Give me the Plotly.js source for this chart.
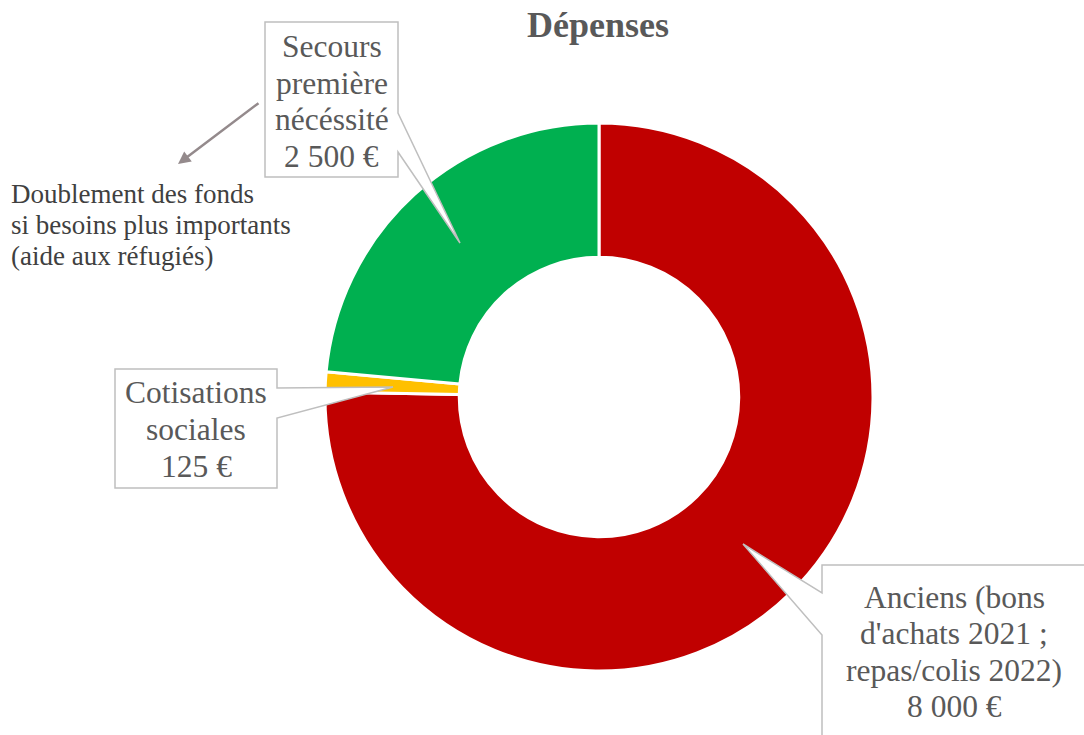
<!DOCTYPE html>
<html>
<head>
<meta charset="utf-8">
<script src="https://cdn.plot.ly/plotly-3.0.1.min.js"></script>
<style>html,body{margin:0;padding:0;background:#fff;}#chart{width:1084px;height:735px;}</style>
</head>
<body>
<div id="chart"></div>
<script>
// Data
const categories = ["Anciens (bons|d'achats 2021 ;|repas/colis 2022)", "Cotisations|sociales", "Secours|première|nécéssité"];
const values = [8000, 125, 2500];
const valueLabels = ["8 000 €", "125 €", "2 500 €"];
const colors = ["#C00000", "#FFC000", "#00B050"];
const chartTitle = "Dépenses";
const noteLines = ["Doublement des fonds", "si besoins plus importants", "(aide aux réfugiés)"];

const W = 1084, H = 735;
const px = x => x / W;
const py = y => 1 - y / H;

const font = "Liberation Serif, Times New Roman, serif";
const LBL = 31.5, NOTE = 27, TTL = 36;

// callout boxes (pixel layout): box rect, wedge base points on one edge, tip
const boxes = [
  {l: 822, t: 565, r: 1092, b: 745, side: 'left', b1: 593, b2: 635, tip: [743, 544], cx: 954, base0: 608, gap: 36.5},
  {l: 115, t: 369, r: 277, b: 488, side: 'right', b1: 388, b2: 418, tip: [393, 387], cx: 196, base0: 403, gap: 37},
  {l: 265, t: 22, r: 398, b: 177, side: 'right', b1: 113, b2: 152, tip: [460, 243], cx: 331.5, base0: 57, gap: 36.7}
];

function calloutPath(b) {
  let pts;
  if (b.side === 'right') {
    pts = [[b.l, b.t], [b.r, b.t], [b.r, b.b1], b.tip, [b.r, b.b2], [b.r, b.b], [b.l, b.b]];
  } else {
    pts = [[b.l, b.t], [b.r, b.t], [b.r, b.b], [b.l, b.b], [b.l, b.b2], b.tip, [b.l, b.b1]];
  }
  return pts.map((p, i) => (i ? 'L ' : 'M ') + px(p[0]) + ' ' + py(p[1])).join(' ') + ' Z';
}

const shapes = boxes.map(b => ({
  type: 'path', xref: 'paper', yref: 'paper', path: calloutPath(b),
  fillcolor: '#FFFFFF', line: {color: '#BFBFBF', width: 1.5}, layer: 'above'
}));

const annotations = [];
categories.forEach((c, i) => {
  const b = boxes[i];
  const lines = c.split('|').concat([valueLabels[i]]);
  lines.forEach((ln, k) => {
    const base = b.base0 + k * b.gap;
    annotations.push({
      xref: 'paper', yref: 'paper', x: px(b.cx), y: py(base - 0.3375 * LBL),
      xanchor: 'center', yanchor: 'middle', text: ln, showarrow: false, borderpad: 0,
      font: {family: font, size: LBL, color: '#595959'}
    });
  });
});

const noteBase = [203, 234.5, 265];
noteLines.forEach((ln, k) => {
  annotations.push({
    xref: 'paper', yref: 'paper', x: px(10), y: py(noteBase[k] - 0.3375 * NOTE),
    xanchor: 'left', yanchor: 'middle', text: ln, showarrow: false, borderpad: 0,
    font: {family: font, size: NOTE, color: '#404040'}
  });
});

annotations.push({
  xref: 'paper', yref: 'paper', x: px(178), y: py(164),
  ax: 82, ay: -62, axref: 'pixel', ayref: 'pixel',
  text: '', showarrow: true, arrowhead: 2, arrowsize: 1, arrowwidth: 2.5,
  arrowcolor: '#948A8C', standoff: 0, startstandoff: 0
});

const data = [{
  type: 'pie',
  labels: categories.map(c => c.replace(/\|/g, ' ')),
  values: values,
  marker: {colors: colors, line: {color: '#FFFFFF', width: 3}},
  hole: 0.51,
  sort: false,
  direction: 'clockwise',
  rotation: 0,
  textinfo: 'none',
  hoverinfo: 'label+value',
  domain: {x: [px(325), px(873)], y: [py(671), py(123)]}
}];

const layout = {
  width: W, height: H,
  margin: {l: 0, r: 0, t: 0, b: 0},
  paper_bgcolor: '#FFFFFF',
  showlegend: false,
  title: {
    text: '<b>' + chartTitle + '</b>',
    x: px(598), xanchor: 'center', y: py(12), yanchor: 'top',
    font: {family: font, size: TTL, color: '#595959'}
  },
  annotations: annotations,
  shapes: shapes
};

Plotly.newPlot('chart', data, layout, {displayModeBar: false, staticPlot: true});
</script>
</body>
</html>
